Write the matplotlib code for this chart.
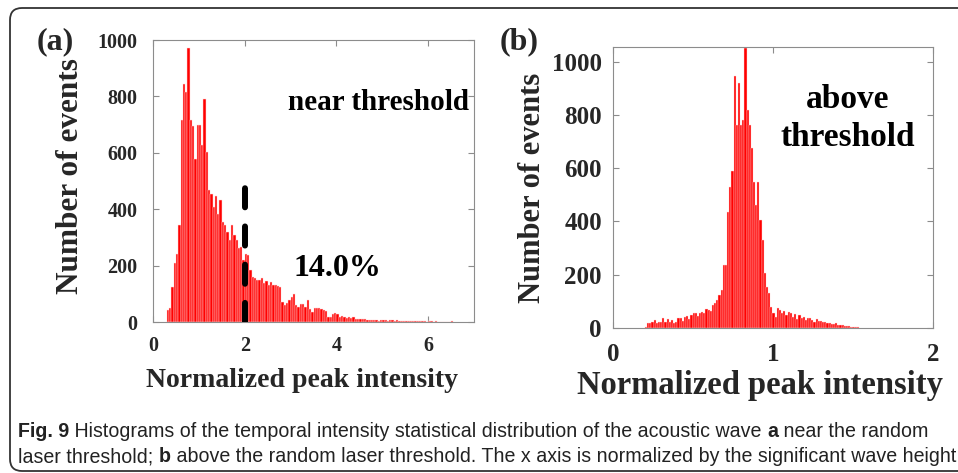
import matplotlib.pyplot as plt
import numpy as np
from matplotlib import font_manager
from matplotlib.patches import FancyBboxPatch

# ---- data ----
# (a) near threshold: bins start at 0.30, width 0.05
a_start = 0.30
a_width = 0.05
a_counts = [41, 50, 124, 209, 242, 343, 717, 845, 816, 973, 715, 694, 579, 697, 697,
            626, 792, 603, 469, 453, 408, 446, 384, 434, 355, 343, 319, 290, 343, 307,
            290, 264, 266, 219, 240, 236, 183, 160, 157, 148, 150, 155, 139, 147, 131,
            143, 131, 131, 128, 125, 72, 60, 69, 78, 90, 99, 60, 54, 64, 64,
            54, 78, 45, 37, 48, 51, 48, 45, 43, 40, 19, 19, 28, 31, 28,
            19, 21, 17, 13, 19, 15, 19, 11, 9, 9, 12, 9, 7, 7,
            8, 6, 8, 5, 7, 6, 8, 5, 6, 7, 5, 6, 4,
            3, 3, 2, 3, 2, 3, 2, 2, 3, 2, 2, 1, 2, 2, 1, 2, 1, 1, 1,
            0, 0, 0, 3]
threshold = 2.0
threshold_top = 475
a_note = "14.0%"

# (b) above threshold: bins start at 0.20, width 0.0135
b_start = 0.20
b_width = 0.0135
b_counts = [5, 20, 18, 24, 30, 20, 21, 24, 36, 24, 33, 24, 30, 18, 24, 36, 36, 28,
            43, 45, 33, 49, 55, 55, 45, 58, 61, 55, 70, 68, 64, 86, 95, 105, 124, 143,
            237, 237, 437, 531, 588, 945, 763, 920, 763, 782, 1050, 820, 763, 675, 550,
            462, 550, 406, 331, 205, 155, 130, 80,
            55, 43, 74, 66, 58, 62, 49, 60, 55, 43, 51, 34, 48, 36, 40, 30, 38, 36, 30,
            24, 32, 28, 26, 21, 24, 18, 20, 16, 14, 18, 12, 11, 10, 8, 8, 6, 5, 4, 3, 2]

a_xticks = [0, 2, 4, 6]
b_xticks = [0, 1, 2]
yticks = [0, 200, 400, 600, 800, 1000]

caption = [
    [("Fig. 9", 'bold'),
     (" Histograms of the temporal intensity statistical distribution of the acoustic wave ", 'normal'),
     ("a", 'bold'), (" near the random", 'normal')],
    [("laser threshold; ", 'normal'), ("b", 'bold'),
     (" above the random laser threshold. The x axis is normalized by the significant wave height", 'normal')],
]

# ---- fonts ----
installed = {f.name for f in font_manager.fontManager.ttflist}
serif = 'Liberation Serif' if 'Liberation Serif' in installed else 'DejaVu Serif'
cap_font = 'Liberation Sans Narrow' if 'Liberation Sans Narrow' in installed else 'Liberation Sans'

W, H = 958, 473
fig = plt.figure(figsize=(W / 100, H / 100), dpi=100)


def fx(px):
    return px / W


def fy(py):
    return 1 - py / H


# background frame with rounded corner (pixel coordinates)
bg = fig.add_axes([0, 0, 1, 1])
bg.set_xlim(0, W)
bg.set_ylim(H, 0)
bg.axis('off')
bg.add_patch(FancyBboxPatch((10, 8), 970, 463, boxstyle="round,pad=0,rounding_size=12",
                            fc='white', ec='#333333', lw=1.3))

tick_color = '#262626'
spine_color = '#8c8c8c'


def style_axes(ax, size, ypad, xpad):
    for s in ax.spines.values():
        s.set_color(spine_color)
        s.set_linewidth(0.8)
    ax.tick_params(direction='in', top=True, right=True, length=4, width=0.8,
                   color=spine_color, labelcolor=tick_color, labelsize=size)
    ax.tick_params(axis='y', pad=ypad)
    ax.tick_params(axis='x', pad=xpad)
    for lab in ax.get_xticklabels() + ax.get_yticklabels():
        lab.set_fontfamily(serif)
        lab.set_fontweight('bold')


def label(x, y, txt, size, rot=0, color=tick_color):
    fig.text(fx(x), fy(y), txt, fontfamily=serif, fontweight='bold', fontsize=size,
             color=color, ha='center', va='center', rotation=rot)


# ---- panel (a) ----
ax1 = fig.add_axes([fx(153), fy(322), fx(474) - fx(153), fy(40) - fy(322)])
a_centers = a_start + a_width * (np.arange(len(a_counts)) + 0.5)
ax1.bar(a_centers, a_counts, width=a_width, color='#ff0000', edgecolor='#ffd6d6',
        linewidth=0.35, zorder=2)
ax1.plot([threshold, threshold], [0, threshold_top], color='black', lw=4.3,
         dashes=(3.2, 3.2), dash_capstyle='round', zorder=3)
ax1.set_xlim(0, 7)
ax1.set_ylim(0, 1000)
ax1.set_xticks(a_xticks)
ax1.set_yticks(yticks)
style_axes(ax1, 14.5, 11, 10)

label(302, 380, "Normalized peak intensity", 20)
label(71, 176, "Number of events", 22.5, rot=90)
label(379, 103, "near threshold", 21, color='black')
label(337, 268, a_note, 23, color='black')
label(55, 42, "(a)", 23)

# ---- panel (b) ----
ax2 = fig.add_axes([fx(613), fy(328), fx(933) - fx(613), fy(47) - fy(328)])
b_centers = b_start + b_width * (np.arange(len(b_counts)) + 0.5)
ax2.bar(b_centers, b_counts, width=b_width, color='#ff0000', edgecolor='#ffd6d6',
        linewidth=0.3, zorder=2)
ax2.set_xlim(0, 2)
ax2.set_ylim(0, 1055)
ax2.set_xticks(b_xticks)
ax2.set_yticks(yticks)
style_axes(ax2, 18, 8, 11)

label(760, 385, "Normalized peak intensity", 23.5)
label(533, 188, "Number of events", 22, rot=90)
label(848, 100, "above", 24, color='black')
label(848, 137, "threshold", 24, color='black')
label(519, 42, "(b)", 23)

# ---- caption with mixed bold pieces, chained left to right ----
cap_size = 14.1
cap_bottoms = [441, 466]
for line, yb in zip(caption, cap_bottoms):
    prev = None
    for txt, w in line:
        if prev is None:
            prev = bg.text(18, yb, txt, fontfamily=[cap_font, 'DejaVu Sans'], fontweight=w,
                           fontsize=cap_size, color='#222222', ha='left', va='bottom')
        else:
            prev = bg.annotate(txt, xy=(1, 0), xycoords=prev,
                               fontfamily=[cap_font, 'DejaVu Sans'], fontweight=w,
                               fontsize=cap_size, color='#222222', ha='left', va='bottom')

fig.savefig("out.png", dpi=100)
